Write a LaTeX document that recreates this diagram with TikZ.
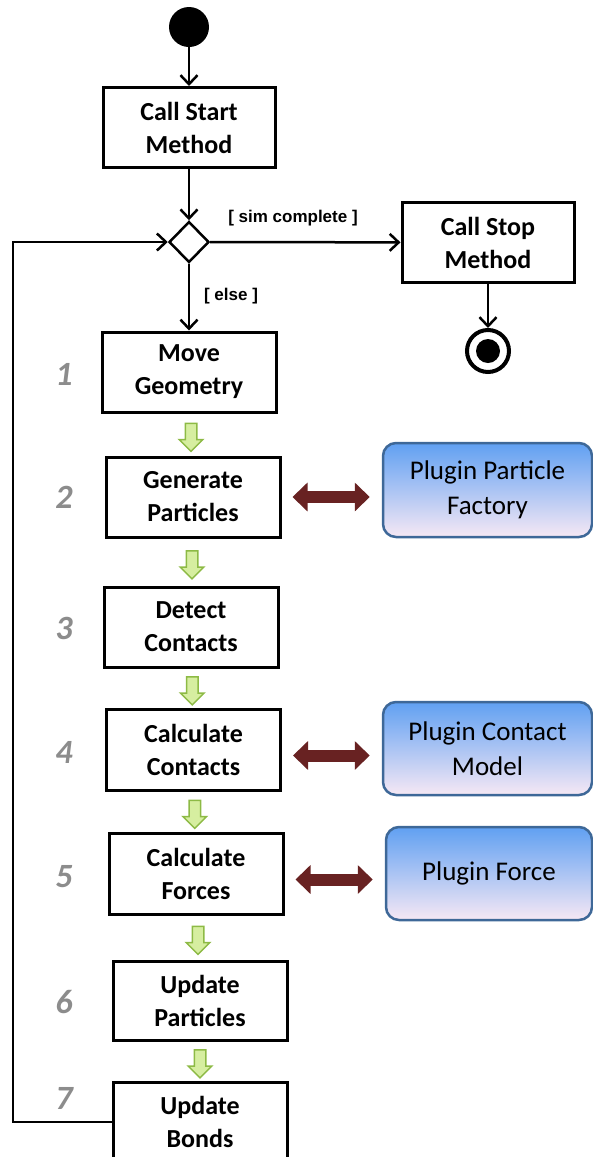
\documentclass[tikz,border=0pt]{standalone}
\usepackage{fontspec}
\setmainfont{Carlito}
\newfontfamily\guardfont{Liberation Sans}
\usepackage{tikz}
\usetikzlibrary{arrows.meta,positioning,calc,shapes.geometric,shapes.arrows}

\definecolor{stepgreen}{RGB}{141,186,69}
\definecolor{stepfill}{RGB}{214,238,160}
\definecolor{plugtop}{RGB}{96,160,242}
\definecolor{plugbot}{RGB}{246,232,244}
\definecolor{plugedge}{RGB}{62,104,152}
\definecolor{linkred}{RGB}{104,34,34}
\definecolor{numgray}{RGB}{140,140,140}

\tikzset{
  act/.style={draw,line width=3pt,minimum width=174pt,minimum height=80pt,inner sep=0pt,align=center,
    font=\fontsize{26}{33}\selectfont\bfseries},
  plug/.style={draw=plugedge,line width=2.5pt,rounded corners=13pt,top color=plugtop,bottom color=plugbot,
    minimum width=209pt,minimum height=93pt,inner sep=0pt,align=center,font=\fontsize{27}{35}\selectfont},
  flow/.style={line width=2.5pt,-{Straight Barb[length=9pt,width=17pt]}},
  link/.style={draw=linkred,line width=12pt,{Triangle[length=15pt,width=28pt]}-{Triangle[length=15pt,width=28pt]},
    shorten <=11pt,shorten >=12pt},
  flowarrow/.style={single arrow,draw=stepgreen,fill=stepfill,line width=1.5pt,rotate=-90,
    minimum height=28pt,inner xsep=0pt,inner ysep=5pt,single arrow head extend=6pt},
  initnode/.style={circle,fill,minimum size=40pt,inner sep=0pt},
  endnode/.style={circle,draw,line width=4pt,minimum size=42pt,inner sep=0pt,
    path picture={\fill (path picture bounding box.center) circle (12pt);}},
  decision/.style={diamond,draw,line width=2.5pt,minimum width=40pt,minimum height=41pt,inner sep=0pt},
  guard/.style={font=\guardfont\bfseries\fontsize{17}{17}\selectfont},
  numlab/.style={text=numgray,font=\fontsize{34}{34}\selectfont\bfseries\itshape}
}

\begin{document}
\begin{tikzpicture}[x=1pt,y=-1pt]
\clip (0,0) rectangle (593,1157);
% start, decision, stop
\node[initnode] (init) at (189,27) {};
\node[act,minimum width=172pt] (callstart) at (189,127.5) {Call Start\\Method};
\node[decision] (dec) at (189,242) {};
\node[act,minimum width=172pt] (callstop) at (488,242.5) {Call Stop\\Method};
\node[endnode] (fin) at (488,351) {};
\node[guard] (simlab) at (293,218) {[ sim complete ]};
\node[guard] (elselab) at (231,296) {[ else ]};

% loop steps
\node[act] (move) at (189,372) {Move\\Geometry};
\node[act] (gen) at (193,497) {Generate\\Particles};
\node[act] (det) at (191,627) {Detect\\Contacts};
\node[act,minimum height=81pt] (calcc) at (193.5,749.5) {Calculate\\Contacts};
\node[act,minimum height=81pt] (calcf) at (196,873.5) {Calculate\\Forces};
\node[act,minimum height=79pt] (updp) at (200,1000.5) {Update\\Particles};
\node[act] (updb) at (200,1122) {Update\\Bonds};

\foreach \n/\y in {1/374,2/497,3/628,4/752,5/877,6/1002,7/1098}
  \node[numlab] (num\n) at (64,\y) {\n};

% plugins
\node[plug,minimum height=94pt] (pf) at (487.5,490) {Plugin Particle\\Factory};
\node[plug] (pc) at (487.5,748.5) {Plugin Contact\\Model};
\node[plug,minimum width=206pt] (pfo) at (489,873.5) {Plugin Force};

% connectors
\draw[flow] (init) -- (callstart);
\draw[flow] (callstart) -- (dec);
\draw[flow] (dec) -- (callstop);
\draw[flow] (callstop) -- (fin);
\draw[flow] (dec) -- (move);
\coordinate (back) at (13,0);
\draw[flow] (updb.west) -- (updb.west -| back) |- (dec.west);

\foreach \a/\b in {move/gen,gen/det,det/calcc,calcc/calcf,calcf/updp,updp/updb}
  \node[flowarrow] (arr-\a) at ($(\a.south)!0.5!(\b.north)$) {};

\draw[link] (gen.east) -- (gen.east -| pf.west);
\draw[link] ([yshift=-6pt]calcc.east) -- ([yshift=-6pt]calcc.east -| pc.west);
\draw[link] ([yshift=-6pt]calcf.east) -- ([yshift=-6pt]calcf.east -| pfo.west);
\end{tikzpicture}
\end{document}
